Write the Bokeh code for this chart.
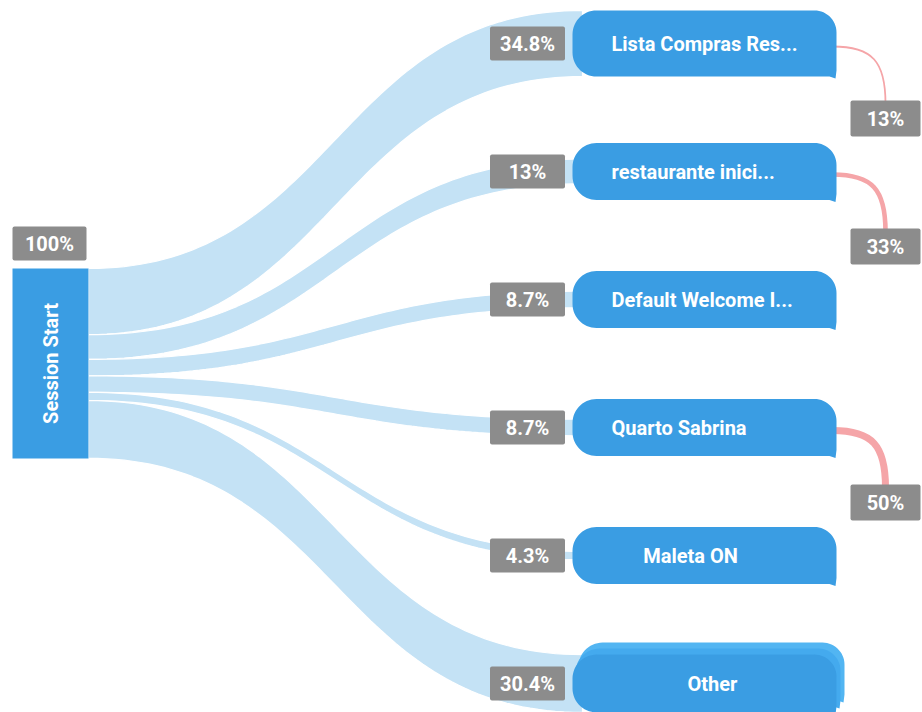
import numpy as np
from bokeh.plotting import figure
from bokeh.models import Range1d, ColumnDataSource
from bokeh.core.properties import value
from bokeh.embed import file_html
from bokeh.resources import INLINE

# ---------------- data ----------------
source_name = "Session Start"
source_label = "100%"
node_names = ["Lista Compras Res...", "restaurante inici...", "Default Welcome I...",
              "Quarto Sabrina", "Maleta ON", "Other"]
node_share = [34.8, 13.0, 8.7, 8.7, 4.3, 30.4]
node_share_labels = ["34.8%", "13%", "8.7%", "8.7%", "4.3%", "30.4%"]
dropoff = [13, 33, None, 50, None, None]
dropoff_labels = ["13%", "33%", None, "50%", None, None]

# ---------------- layout (pixels) ----------------
W, H = 922, 712
FONT = value("Roboto")
FS = "20px"
NODE_BLUE = "#3a9de3"
FLOW_BLUE = "#c4e2f5"
GRAY = "#8c8c8c"
PINK = "#f5a5a8"

src_x0, src_x1 = 12, 88
src_top, src_bot = 268, 458
px_per_pct = (src_bot - src_top) / 100.0

node_x0, node_x1 = 572, 836
first_center, spacing = 43, 128
min_node_h = 57
label_anchor = [(611, "left"), (611, "left"), (611, "left"), (611, "left"),
                (690, "center"), (712, "center")]

p = figure(width=W, height=H, output_backend="svg", toolbar_location=None,
           x_range=Range1d(0, W), y_range=Range1d(H, 0), min_border=0)
p.axis.visible = False
p.grid.visible = False
p.outline_line_color = None
p.background_fill_color = "white"


def bezier(p0, c0, c1, p1, n=80):
    t = np.linspace(0, 1, n)
    a, b, c, d = (1 - t) ** 3, 3 * (1 - t) ** 2 * t, 3 * (1 - t) * t ** 2, t ** 3
    return a * p0[0] + b * c0[0] + c * c1[0] + d * p1[0], a * p0[1] + b * c0[1] + c * c1[1] + d * p1[1]


def arc(cx, cy, r, a0, a1, n=16):
    th = np.linspace(a0, a1, n)
    return list(cx + r * np.cos(th)), list(cy + r * np.sin(th))


def node_shape(x0, x1, yt, yb, rl=24, rt=22):
    xs, ys = [], []
    ax, ay = arc(x0 + rl, yt + rl, rl, np.pi, 1.5 * np.pi); xs += ax; ys += ay
    ax, ay = arc(x1 - rt, yt + rt, rt, 1.5 * np.pi, 2 * np.pi); xs += ax; ys += ay
    xs += [x1, x1 - 1, x1 - 7]; ys += [yb - 6, yb + 2, yb]
    ax, ay = arc(x0 + rl, yb - rl, rl, 0.5 * np.pi, np.pi); xs += ax; ys += ay
    return xs, ys


centers = [first_center + spacing * i for i in range(len(node_names))]
widths = [s * px_per_pct for s in node_share]

# ---------------- flows ----------------
fxs, fys = [], []
y_cursor = src_top
flow_end = node_x0 + 10
xm = (src_x1 + flow_end) / 2
for c, w in zip(centers, widths):
    s_top, s_bot = y_cursor, y_cursor + w
    t_top, t_bot = c - w / 2, c + w / 2
    tx, ty = bezier((src_x1, s_top), (xm, s_top), (xm, t_top), (flow_end, t_top))
    bx, by = bezier((flow_end, t_bot), (xm, t_bot), (xm, s_bot), (src_x1, s_bot))
    fxs.append(list(tx) + list(bx))
    fys.append(list(ty) + list(by))
    y_cursor = s_bot
p.patches(fxs, fys, fill_color=FLOW_BLUE, line_color="white", line_width=1.2)

# ---------------- source node ----------------
p.quad(left=[src_x0], right=[src_x1], top=[src_top], bottom=[src_bot],
       fill_color=NODE_BLUE, line_color=None)
p.text(x=[(src_x0 + src_x1) / 2], y=[(src_top + src_bot) / 2], text=[source_name],
       angle=np.pi / 2, text_font=FONT, text_font_style="bold", text_font_size=FS,
       text_color="white", text_align="center", text_baseline="middle")
p.quad(left=[12], right=[86], top=[226], bottom=[260], fill_color=GRAY, line_color=None,
       border_radius=2)
p.text(x=[49], y=[243], text=[source_label], text_font=FONT, text_font_style="bold",
       text_font_size=FS, text_color="white", text_align="center", text_baseline="middle")

# ---------------- dropoff links ----------------
for c, d in zip(centers, dropoff):
    if d is None:
        continue
    p.bezier(x0=[node_x1 - 4], y0=[c + 3], cx0=[872], cy0=[c + 3], cx1=[885], cy1=[c + 18],
             x1=[885], y1=[c + 60], line_color=PINK, line_width=d * 0.14)

# ---------------- target nodes ----------------
nxs, nys = [], []
for i, (c, w) in enumerate(zip(centers, widths)):
    h = max(min_node_h, w)
    if node_names[i] == "Other":
        for k, col in [(2, "#52b5f2"), (1, "#44aaee")]:
            bx, by = node_shape(node_x0 + 3 * k, node_x1 + 4 * k, c - h / 2 - 6 * k, c + h / 2 - 6 * k)
            p.patch(bx, by, fill_color=col, line_color=None)
    xs, ys = node_shape(node_x0, node_x1, c - h / 2, c + h / 2)
    nxs.append(xs); nys.append(ys)
p.patches(nxs, nys, fill_color=NODE_BLUE, line_color=None)

for i, c in enumerate(centers):
    lx, al = label_anchor[i]
    p.text(x=[lx], y=[c], text=[node_names[i]], text_font=FONT, text_font_style="bold",
           text_font_size=FS, text_color="white", text_align=al, text_baseline="middle")

# share label boxes
ls = ColumnDataSource(dict(y=centers, t=node_share_labels))
p.rect(x=527, y="y", width=75, height=34, source=ls, fill_color=GRAY, line_color=None,
       border_radius=2)
p.text(x=527, y="y", text="t", source=ls, text_font=FONT, text_font_style="bold",
       text_font_size=FS, text_color="white", text_align="center", text_baseline="middle")

# dropoff label boxes
dy = [c + 75 for c, d in zip(centers, dropoff) if d is not None]
dt = [l for l in dropoff_labels if l is not None]
ds = ColumnDataSource(dict(y=dy, t=dt))
p.rect(x=885, y="y", width=70, height=36, source=ds, fill_color=GRAY, line_color=None,
       border_radius=2)
p.text(x=885, y="y", text="t", source=ds, text_font=FONT, text_font_style="bold",
       text_font_size=FS, text_color="white", text_align="center", text_baseline="middle")

open("out.html", "w").write(file_html(p, INLINE))
